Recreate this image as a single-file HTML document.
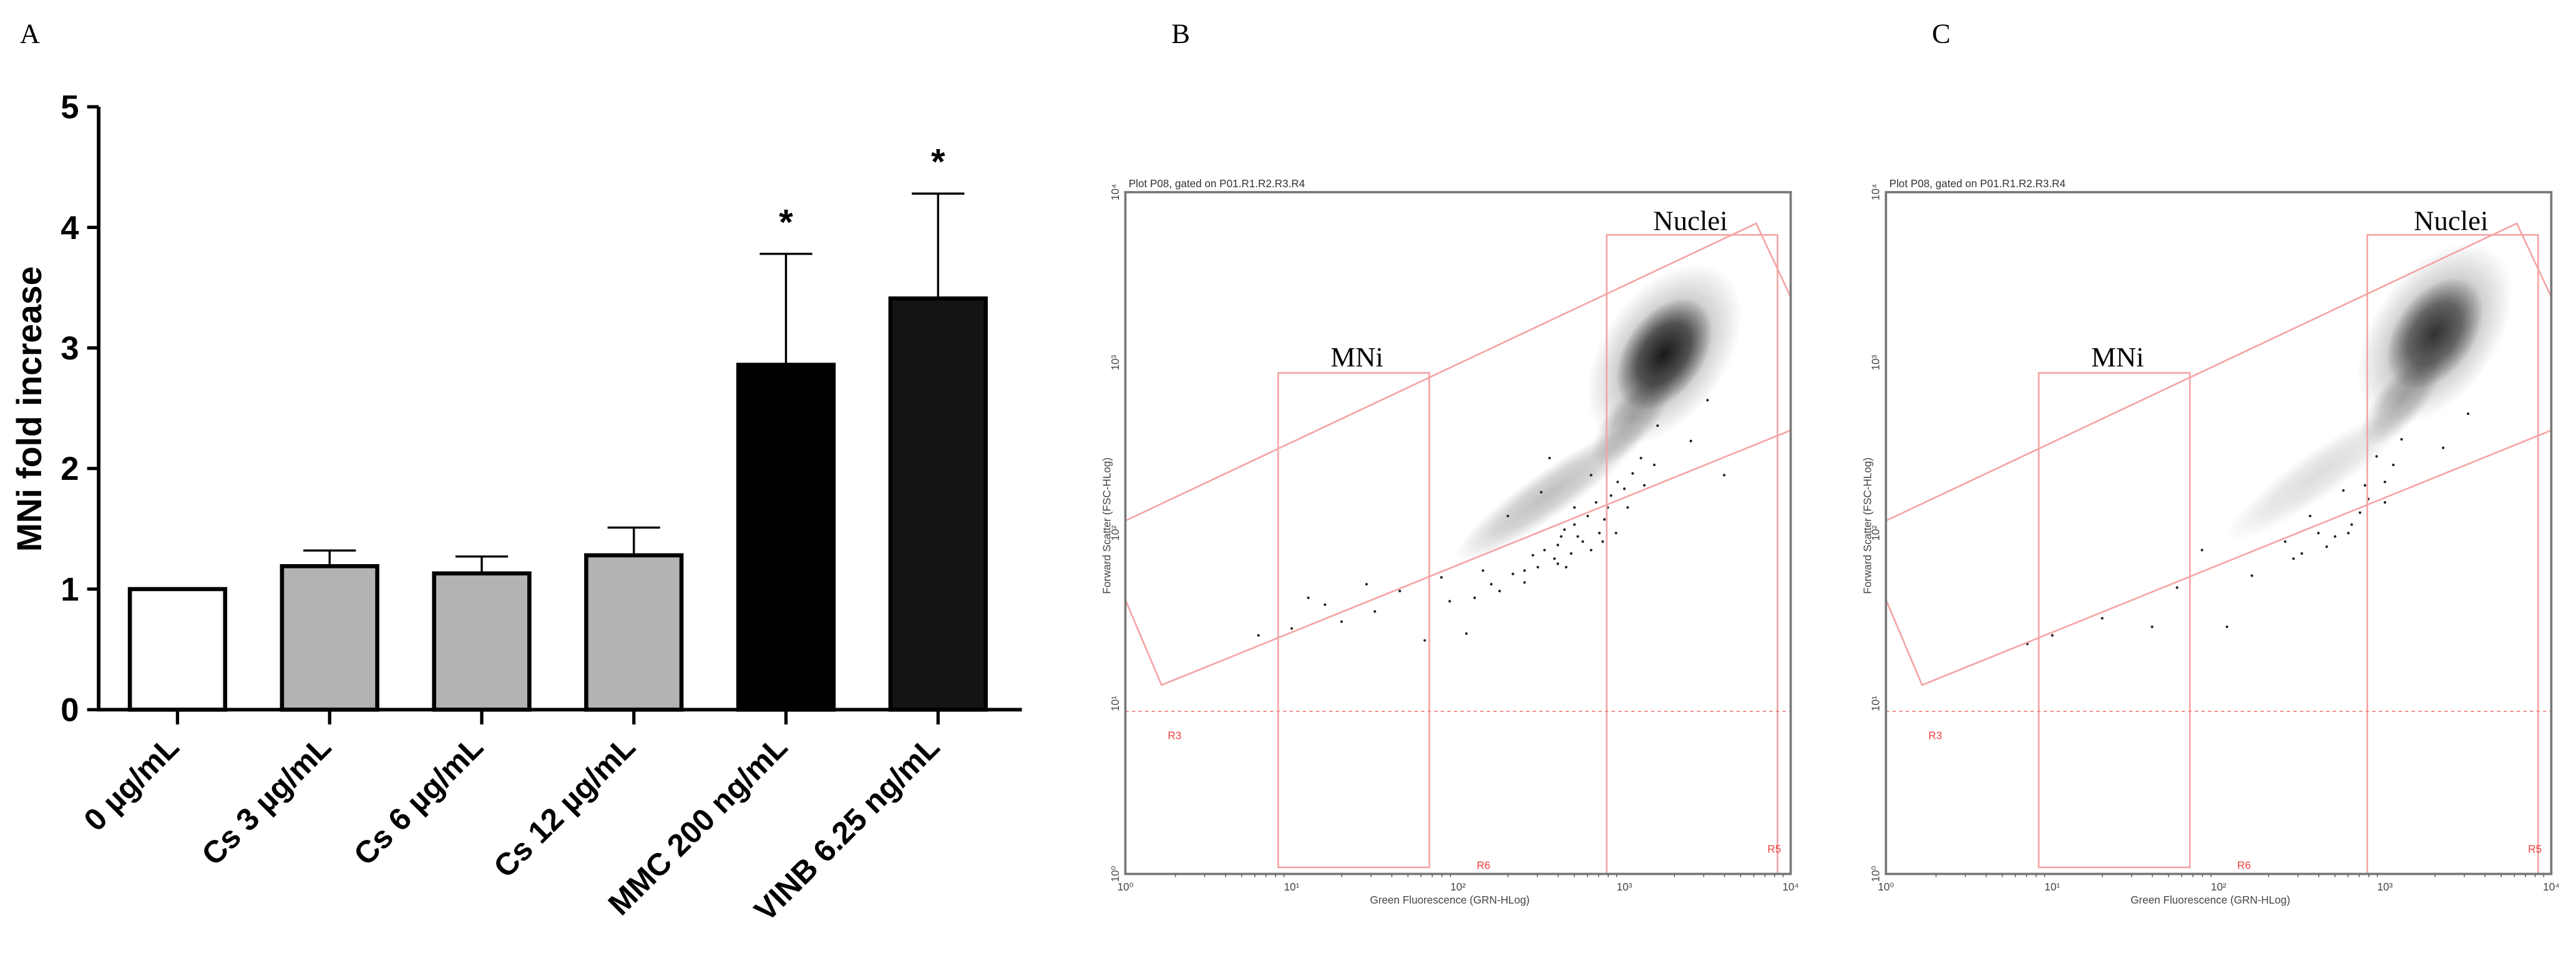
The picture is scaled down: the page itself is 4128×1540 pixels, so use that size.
<!DOCTYPE html>
<html><head><meta charset="utf-8"><style>
html,body{margin:0;padding:0;background:#fff;}
svg{display:block;}
text{font-family:"Liberation Sans",sans-serif;}
</style></head><body>
<svg id="fig" width="4128" height="1540" viewBox="0 0 1568 585" xmlns="http://www.w3.org/2000/svg">
<defs>
<radialGradient id="blob" cx="50%" cy="50%" r="50%">
<stop offset="0%" stop-color="#000" stop-opacity="0.9"/>
<stop offset="55%" stop-color="#000" stop-opacity="0.6"/>
<stop offset="100%" stop-color="#000" stop-opacity="0"/>
</radialGradient>
<clipPath id="frameclip"><rect x="0" y="0" width="405" height="415"/></clipPath>
</defs>
<text x="12" y="26" font-size="17" style="font-family:'Liberation Serif',serif">A</text>
<text x="713" y="26" font-size="17" style="font-family:'Liberation Serif',serif">B</text>
<text x="1176" y="26" font-size="17" style="font-family:'Liberation Serif',serif">C</text>
<g id="barchart"></g>
<g id="flowB" transform="translate(685,117)"></g>
<g id="flowC" transform="translate(1148,117)"></g>
</svg>
<script>
const categories = ["0 µg/mL","Cs 3 µg/mL","Cs 6 µg/mL","Cs 12 µg/mL","MMC 200 ng/mL","VINB 6.25 ng/mL"];
const means = [1.0, 1.19, 1.13, 1.28, 2.86, 3.41];
const errTop = [1.0, 1.32, 1.27, 1.51, 3.78, 4.28];
const significant = [false,false,false,false,true,true];
const yTicks = [0,1,2,3,4,5];
const barFills = ["#ffffff","#b3b3b3","#b3b3b3","#b3b3b3","#000000","#141414"];

// flow data (log10 units)
const tailB = [[2.05,1.41],[1.80,1.37],[1.50,1.54],[1.20,1.58],[1.00,1.44],[1.30,1.48],[1.65,1.66],[1.90,1.74],[2.15,1.78],[2.25,1.66],[2.45,1.87],[2.65,1.80],[2.40,1.71],[2.60,1.93],[2.30,2.10],[2.70,2.05],[2.90,2.15],[3.00,2.26],[2.50,2.24],[2.80,2.34],[3.10,2.44],[2.95,2.00],[2.55,2.44],[3.20,2.63],[3.40,2.54],[3.60,2.34],[3.50,2.78],[2.80,1.90],[2.70,2.15],[2.85,2.00],[2.62,1.98],[2.75,1.95],[2.88,2.08],[2.92,2.22],[3.05,2.35],[3.02,2.15],[2.58,1.85],[2.68,1.88],[2.48,1.80],[0.80,1.40],[1.10,1.62],[1.45,1.70],[2.52,1.90],[2.64,2.02],[2.72,1.98],[2.78,2.10],[2.83,2.18],[2.96,2.30],[2.60,1.82],[2.40,1.78],[2.33,1.76],[2.20,1.70],[2.10,1.62],[1.95,1.60],[2.87,1.95],[3.12,2.28],[3.18,2.40]];
const tailC = [[2.05,1.45],[1.60,1.45],[1.30,1.50],[1.00,1.40],[1.75,1.68],[2.20,1.75],[2.45,1.85],[2.65,1.92],[2.80,2.05],[2.90,2.20],[3.00,2.30],[2.55,2.10],[2.75,2.25],[2.95,2.45],[3.10,2.55],[2.70,1.98],[2.85,2.12],[3.05,2.40],[2.40,1.95],[3.35,2.50],[3.50,2.70],[1.90,1.90],[0.85,1.35],[2.60,2.00],[2.50,1.88],[2.78,2.00],[2.88,2.28],[3.00,2.18]];
const clusterB = [3.24, 3.05];
const clusterC = [3.30, 3.17];
const xDecades = [0,1,2,3,4];
const yDecades = [0,1,2,3,4];

const NS="http://www.w3.org/2000/svg";
function mk(tag, attrs, parent){const e=document.createElementNS(NS,tag);for(const k in attrs)e.setAttribute(k,attrs[k]);parent.appendChild(e);return e;}

// ---- bar chart ----
const bc=document.getElementById('barchart');
const X0=60, Y0=432, Ytop=65, unit=(Y0-Ytop)/5;
const yS=v=>Y0-v*unit;
const xS=i=>108+i*92.6;
const ax=mk('line',{x1:X0,y1:Ytop,x2:X0,y2:Y0+1,stroke:'#000','stroke-width':2.2},bc);

const axx=mk('line',{x1:X0-1,y1:Y0,x2:622,y2:Y0,stroke:'#000','stroke-width':2.2},bc);

yTicks.forEach(t=>{
  mk('line',{x1:X0-7,y1:yS(t),x2:X0,y2:yS(t),stroke:'#000','stroke-width':2},bc);
  const tx=mk('text',{x:X0-12,y:yS(t)+7,'font-size':20,'font-weight':'bold','text-anchor':'end'},bc);
  tx.textContent=t;
  
});
const yt=mk('text',{x:0,y:0,'font-size':21,'font-weight':'bold','text-anchor':'middle',transform:'translate(25,249) rotate(-90)'},bc);
yt.textContent='MNi fold increase';

categories.forEach((c,i)=>{
  const cx=xS(i), w=58;
  if(errTop[i]>means[i]){
    mk('line',{x1:cx,y1:yS(means[i]),x2:cx,y2:yS(errTop[i]),stroke:'#000','stroke-width':1.3},bc);
    mk('line',{x1:cx-16,y1:yS(errTop[i]),x2:cx+16,y2:yS(errTop[i]),stroke:'#000','stroke-width':1.3},bc);
  }
  const b=mk('rect',{x:cx-w/2,y:yS(means[i]),width:w,height:Y0-yS(means[i]),fill:barFills[i],stroke:'#000','stroke-width':2.5},bc);
  
  mk('line',{x1:cx,y1:Y0,x2:cx,y2:Y0+9,stroke:'#000','stroke-width':2},bc);
  if(significant[i]){
    const s=mk('text',{x:cx,y:yS(errTop[i])-12,'font-size':22,'font-weight':'bold','text-anchor':'middle'},bc);
    s.textContent='*';
    
  }
  const lb=mk('text',{x:0,y:0,'font-size':19,'font-weight':'bold','text-anchor':'end',transform:`translate(${cx+2},${Y0+24}) rotate(-45)`},bc);
  lb.textContent=c;
  
});

// ---- flow plots ----
const FW=405, FH=415;
const fx=l=>l*FW/4, fy=l=>FH-l*FH/4;
const pink='#f5a3a3';
function flow(g, tail, cl, sparse){
  const t=mk('text',{x:2,y:-3,'font-size':6.5,fill:'#333'},g);
  t.textContent='Plot P08, gated on P01.R1.R2.R3.R4';
  
  const inner=mk('g',{'clip-path':'url(#frameclip)'},g);
  const [cx,cy]=[fx(cl[0]),fy(cl[1])];
  // tail band
  const tx=cx-70, ty=cy+85;
  mk('ellipse',{cx:tx,cy:ty,rx:70,ry:14,fill:'url(#blob)',opacity:sparse?0.15:0.28,transform:`rotate(-35 ${tx} ${ty})`},inner);
  // cluster
  mk('ellipse',{cx:cx,cy:cy,rx:62,ry:38,fill:'url(#blob)',opacity:0.35,transform:`rotate(-55 ${cx} ${cy})`},inner);
  mk('ellipse',{cx:cx,cy:cy,rx:38,ry:24,fill:'url(#blob)',opacity:sparse?0.8:0.95,transform:`rotate(-55 ${cx} ${cy})`},inner);
  mk('ellipse',{cx:cx-20,cy:cy+40,rx:35,ry:14,fill:'url(#blob)',opacity:0.3,transform:`rotate(-50 ${cx-20} ${cy+40})`},inner);
  tail.forEach(p=>{
    const d=mk('circle',{cx:fx(p[0]),cy:fy(p[1]),r:0.8,fill:'#222'},inner);
    
    
  });
  const gate=mk('polygon',{points:'-17,208 384,19 437,132 22,300',fill:'none',stroke:pink,'stroke-width':1},inner);
  
  const mni=mk('rect',{x:93,y:110,width:92,height:301,fill:'none',stroke:pink,'stroke-width':1},inner);
  
  const nuc=mk('rect',{x:293,y:26,width:104,height:389,fill:'none',stroke:pink,'stroke-width':1},inner);
  
  mk('line',{x1:0,y1:316,x2:FW,y2:316,stroke:'#f08080','stroke-width':0.7,'stroke-dasharray':'2,2'},inner);
  const fr=mk('rect',{x:0,y:0,width:FW,height:FH,fill:'none',stroke:'#777','stroke-width':1.4},g);
  
  [['R3',30,333],['R6',218,412],['R5',395,402]].forEach(r=>{
    const e=mk('text',{x:r[1],y:r[2],'font-size':6.5,fill:'#f04040','text-anchor':'middle'},g);e.textContent=r[0];
    
  });
  const m=mk('text',{x:141,y:106,'font-size':17,'text-anchor':'middle',style:"font-family:'Liberation Serif',serif"},g);m.textContent='MNi';
  
  const n=mk('text',{x:344,y:23,'font-size':17,'text-anchor':'middle',style:"font-family:'Liberation Serif',serif"},g);n.textContent='Nuclei';
  
  xDecades.forEach(d=>{
    const e=mk('text',{x:fx(d),y:FH+10,'font-size':6.5,fill:'#444','text-anchor':'middle'},g);e.textContent='10'+['⁰','¹','²','³','⁴'][d];
    
    for(let k=2;k<10&&d<4;k++){mk('line',{x1:fx(d+Math.log10(k)),y1:FH,x2:fx(d+Math.log10(k)),y2:FH+2,stroke:'#666','stroke-width':0.6},g);}
  });
  yDecades.forEach(d=>{
    const e=mk('text',{x:0,y:0,'font-size':6.5,fill:'#444','text-anchor':'middle',transform:`translate(-4,${fy(d)}) rotate(-90)`},g);e.textContent='10'+['⁰','¹','²','³','⁴'][d];
    
  });
  const xl=mk('text',{x:FW/2-5,y:FH+18,'font-size':6.5,fill:'#444','text-anchor':'middle'},g);xl.textContent='Green Fluorescence (GRN-HLog)';
  
  const yl=mk('text',{x:0,y:0,'font-size':6.5,fill:'#444','text-anchor':'middle',transform:`translate(-9,203) rotate(-90)`},g);yl.textContent='Forward Scatter (FSC-HLog)';
  
}
flow(document.getElementById('flowB'), tailB, clusterB, false);
flow(document.getElementById('flowC'), tailC, clusterC, true);
</script>
</body></html>
